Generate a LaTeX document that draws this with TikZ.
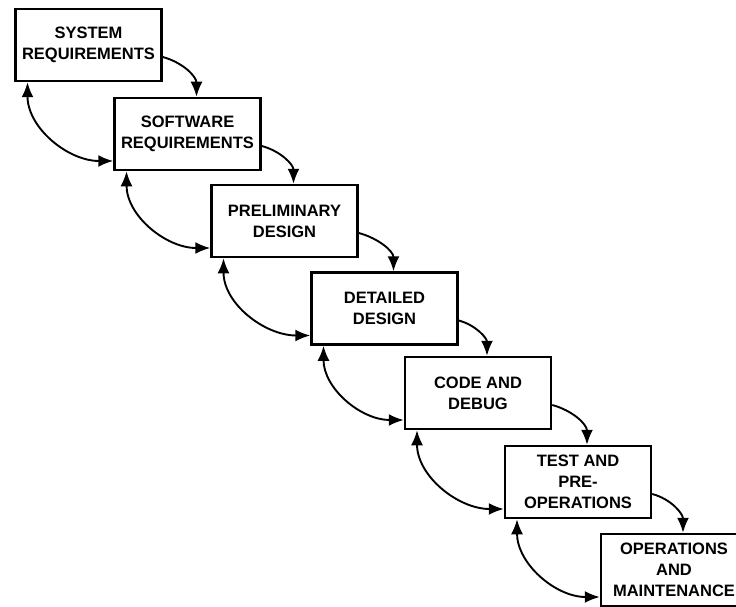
\documentclass[tikz,border=0pt]{standalone}
\usepackage{fontspec}
\setmainfont{Liberation Sans}
\usetikzlibrary{arrows.meta}
\begin{document}
\begin{tikzpicture}[x=1pt, y=1pt, font=\fontsize{16.5}{21}\selectfont\bfseries,
  phase/.style={draw, line width=2.5pt, minimum width=146pt, minimum height=72pt, align=center, inner sep=0pt},
  fwd/.style={-{Latex[length=15pt,width=12pt]}, line width=1.9pt},
  back/.style={{Latex[length=15pt,width=12pt]}-{Latex[length=15pt,width=12pt]}, line width=1.9pt}]
\useasboundingbox (0,0) rectangle (736,-607);
\clip (0,0) rectangle (736,-607);
\node[phase] (sys) at (88.5,-45) {SYSTEM\\REQUIREMENTS};
\node[phase] (sw) at (187.5,-134) {SOFTWARE\\REQUIREMENTS};
\node[phase] (pre) at (284.5,-221) {PRELIMINARY\\DESIGN};
\node[phase] (det) at (384.5,-308.5) {DETAILED\\DESIGN};
\node[phase] (code) at (478,-393) {CODE AND\\DEBUG};
\node[phase] (test) at (578,-482) {TEST AND\\PRE-\\OPERATIONS};
\node[phase] (ops) at (674,-570) {OPERATIONS\\AND\\MAINTENANCE};
\draw[fwd] ([yshift=-12pt]sys.east) to[out=-15, in=90] ([xshift=9pt]sw.north);
\draw[fwd] ([yshift=-12pt]sw.east) to[out=-15, in=90] ([xshift=9pt]pre.north);
\draw[fwd] ([yshift=-12pt]pre.east) to[out=-15, in=90] ([xshift=9pt]det.north);
\draw[fwd] ([yshift=-12pt]det.east) to[out=-15, in=90] ([xshift=9pt]code.north);
\draw[fwd] ([yshift=-12pt]code.east) to[out=-15, in=90] ([xshift=9pt]test.north);
\draw[fwd] ([yshift=-12pt]test.east) to[out=-15, in=90] ([xshift=9pt]ops.north);
\draw[back] ([xshift=-61pt]sys.south) to[out=-90, in=180] ([yshift=-27pt]sw.west);
\draw[back] ([xshift=-61pt]sw.south) to[out=-90, in=180] ([yshift=-27pt]pre.west);
\draw[back] ([xshift=-61pt]pre.south) to[out=-90, in=180] ([yshift=-27pt]det.west);
\draw[back] ([xshift=-61pt]det.south) to[out=-90, in=180] ([yshift=-27pt]code.west);
\draw[back] ([xshift=-61pt]code.south) to[out=-90, in=180] ([yshift=-27pt]test.west);
\draw[back] ([xshift=-61pt]test.south) to[out=-90, in=180] ([yshift=-27pt]ops.west);
\end{tikzpicture}
\end{document}
